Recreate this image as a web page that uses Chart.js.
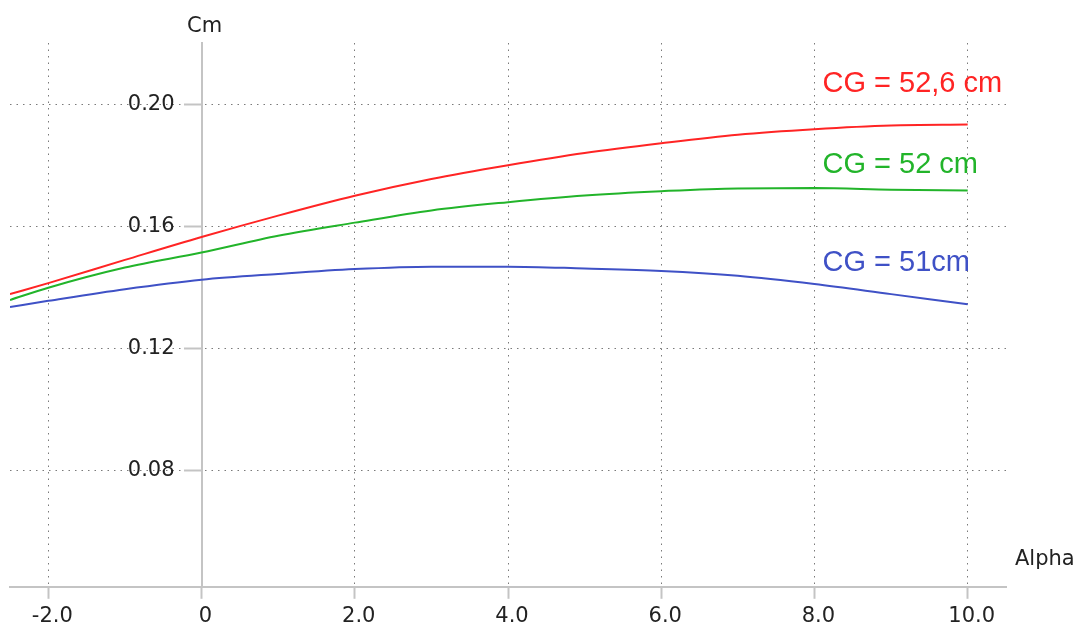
<!DOCTYPE html>
<html>
<head>
<meta charset="utf-8">
<script src="https://cdn.jsdelivr.net/npm/chart.js@4"></script>
<style>
    html, body { margin: 0; padding: 0; background: #fff; overflow: hidden; }
    #wrap { width: 1082px; height: 634px; }
</style>
</head>
<body>
<div id="wrap"><canvas id="cmChart"></canvas></div>
<script>
// Cm vs Alpha for three CG positions
const alpha = [-2.5, -2, -1, 0, 1, 2, 3, 4, 5, 6, 7, 8, 9, 10];
const cmCG526 = [0.1378, 0.1414, 0.1490, 0.1565, 0.1635, 0.1700, 0.1755, 0.1800, 0.1840, 0.1872, 0.1900, 0.1918, 0.1930, 0.1933];
const cmCG52 = [0.1359, 0.1399, 0.1465, 0.1514, 0.1569, 0.1612, 0.1652, 0.1679, 0.1701, 0.1715, 0.1724, 0.1725, 0.1720, 0.1717];
const cmCG51 = [0.1336, 0.1356, 0.1394, 0.1425, 0.1444, 0.1460, 0.1468, 0.1468, 0.1462, 0.1454, 0.1438, 0.1411, 0.1378, 0.1345];
const seriesNames = ['CG = 52,6 cm', 'CG = 52 cm', 'CG = 51cm'];
const seriesColors = ['#ff2424', '#22b42a', '#3f51c6'];
const xTickValues = [-2, 0, 2, 4, 6, 8, 10];
const yTickValues = [0.08, 0.12, 0.16, 0.20];

document.addEventListener('DOMContentLoaded', () => {
    const seriesData = [cmCG526, cmCG52, cmCG51];

    const tickFont = { family: '"DejaVu Sans", sans-serif', size: 21, lineHeight: 1.2 };
    const axisGrey = '#c4c4c4';
    const dotGrey = '#7a7a7a';

    // text that sits on the plot: y tick labels, axis names and curve names
    const curveLabels = {
        id: 'curveLabels',
        afterDatasetsDraw(chart) {
            const { ctx, chartArea, scales: { x, y } } = chart;
            const axisX = x.getPixelForValue(0);
            const labelY = [0.2039, 0.1773, 0.1454];
            ctx.save();
            ctx.font = '21px "DejaVu Sans"';
            ctx.fillStyle = '#222';
            // y labels sit left of the middle axis, past the tick marks
            ctx.textAlign = 'right';
            ctx.textBaseline = 'middle';
            y.ticks.forEach(t => {
                ctx.fillText(t.value.toFixed(2), axisX - 27, y.getPixelForValue(t.value));
            });
            ctx.textBaseline = 'alphabetic';
            ctx.textAlign = 'center';
            ctx.fillText('Cm', axisX + 3, chartArea.top - 11);
            ctx.textAlign = 'left';
            ctx.fillText('Alpha', chartArea.right + 9, chartArea.bottom - 22);
            ctx.font = '29px "Liberation Sans"';
            seriesNames.forEach((name, i) => {
                ctx.fillStyle = seriesColors[i];
                ctx.fillText(name, x.getPixelForValue(8) + 8, y.getPixelForValue(labelY[i]));
            });
            ctx.restore();
        }
    };

    const ctx = document.getElementById('cmChart').getContext('2d');
    new Chart(ctx, {
        type: 'line',
        data: {
            datasets: seriesNames.map((name, i) => ({
                label: name,
                data: alpha.map((a, j) => ({ x: a, y: seriesData[i][j] })),
                borderColor: seriesColors[i],
                borderWidth: 2,
                pointRadius: 0,
                cubicInterpolationMode: 'monotone',
                fill: false
            }))
        },
        options: {
            responsive: true,
            maintainAspectRatio: false,
            animation: false,
            layout: { padding: { left: 10, right: 76, top: 43, bottom: 0 } },
            plugins: {
                legend: { display: false },
                tooltip: { enabled: false }
            },
            scales: {
                x: {
                    type: 'linear',
                    position: 'bottom',
                    min: -2.5,
                    max: 10.5,
                    afterBuildTicks: scale => { scale.ticks = xTickValues.map(v => ({ value: v })); },
                    ticks: {
                        autoSkip: false,
                        maxRotation: 0,
                        padding: 5,
                        labelOffset: 4,
                        color: '#222',
                        font: tickFont,
                        callback: v => (v === 0 ? '0' : v.toFixed(1))
                    },
                    grid: {
                        color: dotGrey,
                        lineWidth: 1,
                        tickLength: 12,
                        tickColor: axisGrey,
                        tickWidth: 2,
                        tickBorderDash: []
                    },
                    border: { display: true, color: axisGrey, width: 2, dash: [1.5, 5] }
                },
                y: {
                    type: 'linear',
                    position: { x: 0 },
                    min: 0.042,
                    max: 0.22,
                    afterBuildTicks: scale => { scale.ticks = yTickValues.map(v => ({ value: v })); },
                    ticks: { display: false },
                    grid: {
                        color: dotGrey,
                        lineWidth: 1,
                        tickLength: 17,
                        tickColor: axisGrey,
                        tickWidth: 2,
                        tickBorderDash: []
                    },
                    border: { display: true, color: axisGrey, width: 2, dash: [1.5, 5] }
                }
            }
        },
        plugins: [curveLabels]
    });
});
</script>
</body>
</html>
